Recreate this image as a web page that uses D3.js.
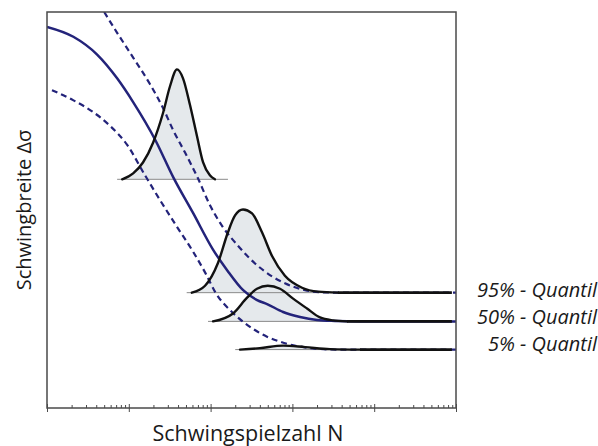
<!DOCTYPE html>
<html>
<head>
<meta charset="utf-8">
<title>Woehler-Linie mit Quantilen</title>
<script src="https://d3js.org/d3.v7.min.js"></script>
<style>
  body { margin: 0; background: #fff; }
  text { font-family: "Open Sans", "DejaVu Sans", sans-serif; fill: #1a1a1a; }
</style>
</head>
<body>
<script>
// Woehler line (50 %): N, stress range
var midN = [1e3, 2.1e3, 4.1e3, 7.2e3, 1.13e4, 2.1e4, 3.5e4, 6.1e4, 1.07e5, 1.6e5, 2.5e5, 3.7e5, 4.9e5, 7.7e5, 1.24e6, 2.0e6, 3.3e6, 6.7e6, 1e8];
var midS = [385, 375, 357, 333, 309, 271, 233, 197, 160, 139, 119, 109, 105, 97, 92, 89, 88, 87.5, 87.5];

// 95 % quantile (upper dashed)
var upN = [5.0e3, 7.2e3, 1.13e4, 1.82e4, 2.62e4, 3.47e4, 4.87e4, 7.0e4, 9.8e4, 1.38e5, 2.16e5, 3.49e5, 5.64e5, 8.1e5, 1.43e6, 2.17e6, 3.8e6, 1e8];
var upS = [400, 379, 354, 327, 303, 281, 258, 232, 205, 184, 164, 146, 133, 126, 119, 117, 116.5, 116.5];

// 5 % quantile (lower dashed)
var loN = [1.15e3, 2.08e3, 3.65e3, 5.9e3, 9.5e3, 1.58e4, 2.41e4, 3.88e4, 6.1e4, 8.55e4, 1.16e5, 1.88e5, 3.03e5, 4.89e5, 7.05e5, 9.35e5, 1.24e6, 1.89e6, 3.8e6, 1e8];
var loS = [321, 311, 299, 285, 266, 235, 210, 183, 158, 137, 116, 96, 82, 72, 67, 64, 62, 60, 59, 59];

// density curves: stress level, N values, height above level
var bellLevels = [231, 116.5, 87.5, 59];
var bellStart = [7.2e3, 5.1e4, 9.3e4, 2.0e5];   // left end of the thin base line
var bellEnd = [1.63e5, 8.9e7, 8.9e7, 8.9e7];    // right end of the thin base line
var bell1N = [8.3e3, 1.13e4, 1.49e4, 1.98e4, 2.62e4, 3.19e4, 3.88e4, 4.6e4, 5.6e4, 6.8e4, 8.1e4, 9.8e4, 1.13e5];
var bell1H = [0, 6, 17, 37, 67, 94, 111, 102, 75, 44, 17, 4, 0];
var bell2N = [5.9e4, 8.55e4, 1.23e5, 1.63e5, 1.99e5, 2.49e5, 3.21e5, 4.25e5, 5.64e5, 8.1e5, 1.31e6, 2.06e6, 3.6e6];
var bell2H = [0, 7, 30, 61, 78, 84, 80, 61, 37, 17, 5, 1, 0];
var bell3N = [1.07e5, 1.88e5, 2.79e5, 3.69e5, 5.0e5, 7.05e5, 1.02e6, 1.51e6, 2.17e6, 3.13e6, 4.65e6];
var bell3H = [0, 8, 24, 33, 36, 33, 23, 13, 4, 1, 0];
var bell4N = [2.29e5, 4.0e5, 7.7e5, 1.43e6, 2.88e6, 6.7e6];
var bell4H = [0, 1.5, 4, 2.5, 0.5, 0];

// black plateau of each quantile after its density tail
var quantLabels = ["95% - Quantil", "50% - Quantil", "5% - Quantil"];
var quantLevels = [116.5, 87.5, 59];
var plateauFrom = [3.6e6, 4.65e6, 6.7e6];
var plateauTo = 8.9e7;
var quantShift = [4.5, 2.5, 1];

var width = 598, height = 446;
var x0 = 47, y0 = 12, x1 = 456, y1 = 408;
var blue = "#23237a";

var svg = d3.select("body").append("svg")
  .attr("width", width)
  .attr("height", height);

var x = d3.scaleLog().domain([1e3, 1e8]).range([x0, x1]);
var y = d3.scaleLinear().domain([0, 400]).range([y1, y0]);

svg.append("clipPath").attr("id", "plot")
  .append("rect")
  .attr("x", x0).attr("y", y0)
  .attr("width", x1 - x0).attr("height", y1 - y0);

var plot = svg.append("g").attr("clip-path", "url(#plot)");

var bells = [[bell1N, bell1H], [bell2N, bell2H], [bell3N, bell3H], [bell4N, bell4H]].map(function (b, i) {
  return b[0].map(function (n, j) { return {n: n, h: b[1][j], level: bellLevels[i]}; });
});

// grey fills under the density curves
var area = d3.area()
  .x(function (d) { return x(d.n); })
  .y0(function (d) { return y(d.level); })
  .y1(function (d) { return y(d.level + d.h); })
  .curve(d3.curveMonotoneX);

plot.append("g").selectAll("path")
  .data(bells)
  .enter().append("path")
  .attr("d", area)
  .attr("fill", "#e5e9ec")
  .attr("stroke", "none");

// thin base lines
plot.append("g").selectAll("line")
  .data(bellLevels)
  .enter().append("line")
  .attr("x1", function (d, i) { return x(bellStart[i]); })
  .attr("x2", function (d, i) { return x(bellEnd[i]); })
  .attr("y1", function (d) { return y(d); })
  .attr("y2", function (d) { return y(d); })
  .attr("stroke", "#8a8a8a")
  .attr("stroke-width", 1);

// Woehler lines
var line = d3.line()
  .x(function (d) { return x(d[0]); })
  .y(function (d) { return y(d[1]); })
  .curve(d3.curveMonotoneX);

function pairs(a, b) { return a.map(function (v, i) { return [v, b[i]]; }); }

plot.append("path")
  .attr("d", line(pairs(upN, upS)))
  .attr("fill", "none")
  .attr("stroke", blue)
  .attr("stroke-width", 2.2)
  .attr("stroke-dasharray", "6,4");

plot.append("path")
  .attr("d", line(pairs(loN, loS)))
  .attr("fill", "none")
  .attr("stroke", blue)
  .attr("stroke-width", 2.2)
  .attr("stroke-dasharray", "6,4");

plot.append("path")
  .attr("d", line(pairs(midN, midS)))
  .attr("fill", "none")
  .attr("stroke", blue)
  .attr("stroke-width", 2.5);

// density outlines
var bellLine = d3.line()
  .x(function (d) { return x(d.n); })
  .y(function (d) { return y(d.level + d.h); })
  .curve(d3.curveMonotoneX);

plot.append("g").selectAll("path")
  .data(bells)
  .enter().append("path")
  .attr("d", bellLine)
  .attr("fill", "none")
  .attr("stroke", "#111")
  .attr("stroke-width", 2.4)
  .attr("stroke-linecap", "round");

plot.append("g").selectAll("line")
  .data(quantLevels)
  .enter().append("line")
  .attr("x1", function (d, i) { return x(plateauFrom[i]); })
  .attr("x2", x(plateauTo))
  .attr("y1", function (d) { return y(d); })
  .attr("y2", function (d) { return y(d); })
  .attr("stroke", "#111")
  .attr("stroke-width", 2.6);

// frame
svg.append("rect")
  .attr("x", x0).attr("y", y0)
  .attr("width", x1 - x0).attr("height", y1 - y0)
  .attr("fill", "none")
  .attr("stroke", "#4a4a4a")
  .attr("stroke-width", 1.5);

// log ticks on the N axis
function isMajor(d) {
  var l = Math.log10(d);
  return Math.abs(l - Math.round(l)) < 1e-9;
}

var xAxis = svg.append("g")
  .attr("transform", "translate(0," + y1 + ")")
  .call(d3.axisBottom(x).tickValues(x.ticks()).tickFormat("").tickSizeOuter(0));
xAxis.select(".domain").remove();
xAxis.selectAll(".tick line")
  .attr("y1", function (d) { return isMajor(d) ? 4 : 0; })
  .attr("y2", function (d) { return isMajor(d) ? -4 : -3; })
  .attr("stroke", "#4a4a4a")
  .attr("stroke-width", 1);

// axis titles
svg.append("text")
  .attr("x", 248)
  .attr("y", 441)
  .attr("text-anchor", "middle")
  .style("font-size", "21.5px")
  .text("Schwingspielzahl N");

svg.append("text")
  .attr("transform", "translate(31,210) rotate(-90)")
  .attr("text-anchor", "middle")
  .style("font-size", "20px")
  .text("Schwingbreite \u0394\u03c3");

// quantile labels
svg.append("g").selectAll("text")
  .data(quantLabels)
  .enter().append("text")
  .attr("x", 597)
  .attr("y", function (d, i) { return y(quantLevels[i]) + quantShift[i]; })
  .attr("text-anchor", "end")
  .style("font-size", "20px")
  .style("font-style", "italic")
  .text(function (d) { return d; });
</script>
</body>
</html>
